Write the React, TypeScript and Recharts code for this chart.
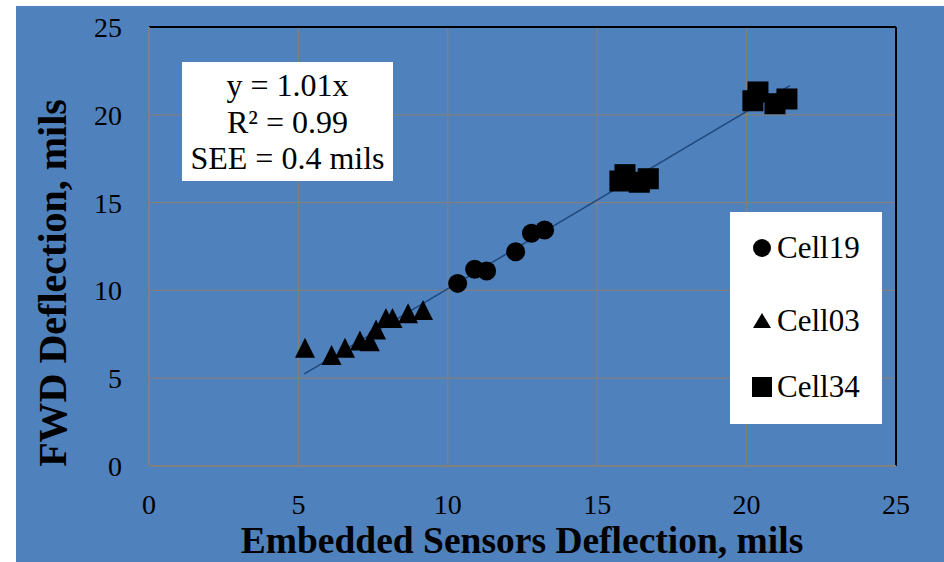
import { ScatterChart, Scatter, XAxis, YAxis, CartesianGrid, ReferenceLine, Label } from "recharts";

const FONT = "Liberation Serif, Times New Roman, Times, DejaVu Serif, serif";
const BLUE = "#4F81BD";

const cell19 = [
    { x: 10.33, y: 10.4 },
    { x: 10.9, y: 11.2 },
    { x: 11.3, y: 11.1 },
    { x: 12.27, y: 12.2 },
    { x: 12.8, y: 13.25 },
    { x: 13.24, y: 13.44 }
];

const cell03 = [
    { x: 5.22, y: 6.73 },
    { x: 6.11, y: 6.32 },
    { x: 6.56, y: 6.73 },
    { x: 7.06, y: 7.14 },
    { x: 7.39, y: 7.1 },
    { x: 7.6, y: 7.78 },
    { x: 7.93, y: 8.43 },
    { x: 8.15, y: 8.43 },
    { x: 8.67, y: 8.7 },
    { x: 9.17, y: 8.88 }
];

const cell34 = [
    { x: 15.76, y: 16.23 },
    { x: 15.93, y: 16.59 },
    { x: 16.41, y: 16.16 },
    { x: 16.71, y: 16.36 },
    { x: 20.21, y: 20.8 },
    { x: 20.38, y: 21.3 },
    { x: 20.95, y: 20.63 },
    { x: 21.35, y: 20.9 }
];

// fitted line y = 1.01x, drawn over the data range
const fitLine = [
    { x: 5.2, y: 5.25 },
    { x: 21.45, y: 21.66 }
];

const ticks = [0, 5, 10, 15, 20, 25];
const statsLines = ["y = 1.01x", "R\u00b2 = 0.99", "SEE = 0.4 mils"];

type Marker = "circle" | "triangle" | "square";

function drawMarker(kind: Marker, cx: number, cy: number) {
    if (kind === "circle") return <circle cx={cx} cy={cy} r={9.5} fill="#000" />;
    if (kind === "triangle")
        return <polygon points={`${cx},${cy - 10} ${cx + 10},${cy + 10} ${cx - 10},${cy + 10}`} fill="#000" />;
    return <rect x={cx - 10.5} y={cy - 10.5} width={21} height={21} fill="#000" />;
}

const seriesList: { name: string; data: { x: number; y: number }[]; marker: Marker }[] = [
    { name: "Cell19", data: cell19, marker: "circle" },
    { name: "Cell03", data: cell03, marker: "triangle" },
    { name: "Cell34", data: cell34, marker: "square" }
];

export default function App() {
    return (
        <div style={{ position: "absolute", left: 0, top: 0, width: 944, height: 562, fontFamily: FONT }}>
            <div style={{ position: "absolute", left: 16, top: 6, width: 928, height: 556, background: BLUE }} />
            <div style={{ position: "absolute", left: 0, top: 0 }}>
                <ScatterChart width={944} height={562} margin={{ top: 27, right: 48, bottom: 0, left: 0 }}>
                    <CartesianGrid stroke="#808080" strokeWidth={1.3} fill="none" />
                    <XAxis
                        type="number"
                        dataKey="x"
                        domain={[0, 25]}
                        ticks={ticks}
                        height={96}
                        tickSize={0}
                        tickMargin={28}
                        axisLine={{ stroke: "#808080", strokeWidth: 2 }}
                        tick={{ fill: "#000", fontSize: 28, fontFamily: FONT }}
                    >
                        <Label
                            content={() => (
                                <text x={522} y={553} textAnchor="middle" fontSize={37.5} fontWeight="bold" fontFamily={FONT} fill="#000">
                                    Embedded Sensors Deflection, mils
                                </text>
                            )}
                        />
                    </XAxis>
                    <YAxis
                        type="number"
                        dataKey="y"
                        domain={[0, 25]}
                        ticks={ticks}
                        width={149}
                        tickSize={0}
                        tickMargin={27}
                        axisLine={{ stroke: "#808080", strokeWidth: 2 }}
                        tick={{ fill: "#000", fontSize: 28, fontFamily: FONT }}
                    >
                        <Label
                            content={() => (
                                <text
                                    x={66}
                                    y={283}
                                    transform="rotate(-90, 66, 283)"
                                    textAnchor="middle"
                                    fontSize={40}
                                    fontWeight="bold"
                                    fontFamily={FONT}
                                    fill="#000"
                                >
                                    FWD Deflection, mils
                                </text>
                            )}
                        />
                    </YAxis>
                    <ReferenceLine y={25} stroke="#000" strokeWidth={2} />
                    <ReferenceLine x={25} stroke="#000" strokeWidth={2} />
                    {seriesList.map((s) => (
                        <Scatter
                            key={s.name}
                            name={s.name}
                            data={s.data}
                            isAnimationActive={false}
                            shape={(p: any) => drawMarker(s.marker, p.cx, p.cy)}
                        />
                    ))}
                    <ReferenceLine segment={fitLine} stroke="#1F497D" strokeWidth={1.5} />
                </ScatterChart>
            </div>
            <svg width={944} height={562} style={{ position: "absolute", left: 0, top: 0, pointerEvents: "none" }}>
                <rect x={182} y={62} width={211} height={119} fill="#fff" />
                {statsLines.map((line, i) => (
                    <text key={line} x={287.5} y={96 + i * 36.5} textAnchor="middle" fontSize={32} fontFamily={FONT} fill="#000">
                        {line}
                    </text>
                ))}
                <rect x={730} y={212} width={152} height={212} fill="#fff" />
                {seriesList.map((s, i) => {
                    const cy = [248, 321, 387][i];
                    return (
                        <g key={s.name}>
                            {s.marker === "circle" && <circle cx={762} cy={cy} r={9} fill="#000" />}
                            {s.marker === "triangle" && (
                                <polygon points={`762,${cy - 8} 771,${cy + 7} 753,${cy + 7}`} fill="#000" />
                            )}
                            {s.marker === "square" && <rect x={752} y={cy - 10} width={20} height={20} fill="#000" />}
                            <text x={777} y={cy + 10} fontSize={31} fontFamily={FONT} fill="#000">
                                {s.name}
                            </text>
                        </g>
                    );
                })}
            </svg>
        </div>
    );
}
